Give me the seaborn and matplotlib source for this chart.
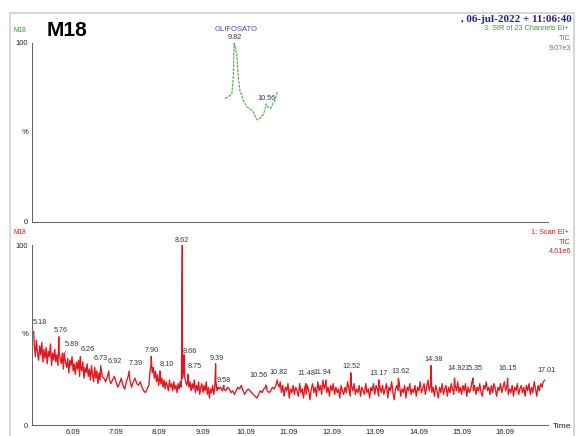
import numpy as np
import pandas as pd
import matplotlib
matplotlib.use("Agg")
import matplotlib.pyplot as plt
from matplotlib.ticker import MultipleLocator, NullFormatter, FixedLocator
from matplotlib.patches import Rectangle
import seaborn as sns

# ---------------- SIR channel (function 3) ----------------
sir_time = [9.61, 9.685, 9.765, 9.80, 9.88, 9.915, 9.955, 9.995, 10.03, 10.11,
            10.19, 10.265, 10.305, 10.355, 10.42, 10.495, 10.535, 10.61, 10.665,
            10.715, 10.765, 10.82]
sir_pct = [69, 70, 71.5, 81, 94, 81, 73, 71, 68, 64.5,
           63, 61.5, 59, 57, 58, 60, 63, 64, 63.5,
           66, 68, 73]
sir_peak_rt = [9.82, 10.56]
sir_peak_pct = [100, 66]

# ---------------- Scan TIC (function 1) ----------------
# segments: (first scan time, scan interval, relative intensities)
tic_a_start, tic_a_step = 5.192, 0.025
tic_a = [45, 38, 47, 40, 36, 44, 39, 46, 35, 42,
         37, 43, 34, 41, 38, 45, 33, 40, 36, 42,
         35, 39, 33, 41, 37, 34, 40, 31, 38, 35,
         32, 37, 29, 36, 33, 38, 30, 34, 28, 35,
         31, 36, 27, 33, 30, 35, 26, 32, 29, 34,
         27, 31, 25, 33, 28, 24, 32, 26, 30, 23,
         29, 25, 31, 27]

tic_b_start, tic_b_step = 6.805, 0.04
tic_b = [26, 24, 27, 26, 23, 25, 27, 24, 21, 23,
         26, 22, 20, 24, 27, 25, 21, 24, 26, 23,
         22, 24, 21, 19, 18, 20, 22]

tic_c_start, tic_c_step = 7.872, 0.025
tic_c = [30, 34, 29, 32, 26, 30, 24, 28, 22, 27,
         23, 26, 21, 25, 20, 24, 22, 19, 25, 21,
         23, 19, 24, 20, 22, 18, 23, 20, 24, 21,
         26, 30, 27, 24, 22, 25, 21, 24, 19, 23,
         20, 25, 18, 22, 19, 24, 17, 21, 23, 18,
         22, 19, 24, 17, 21, 15, 20, 18, 22, 17,
         21, 24, 19, 21, 20]

tic_d_start, tic_d_step = 9.505, 0.04
tic_d = [21, 19, 20, 19, 21, 20, 18, 19, 17, 19,
         21, 20, 22, 19, 17, 19, 20, 19, 18, 17,
         16, 15, 17, 19, 18, 20, 21, 19, 18, 19,
         21, 20, 22, 23, 21]

tic_e_start, tic_e_step = 10.885, 0.03
tic_e = [24, 18, 22, 16, 21, 19, 23, 15, 20, 18,
         22, 17, 21, 19, 16, 23, 18, 20, 15, 21,
         17, 22, 19, 14, 20, 23, 18, 21, 16, 24,
         19, 22, 17, 25, 20, 23, 18, 21, 16, 22,
         19, 23, 17, 21, 18, 20, 15, 22, 19, 17,
         21, 18, 24, 20, 16, 22, 19, 23, 17, 20,
         18, 22, 16, 21, 19, 17, 23, 18, 20, 15,
         21, 19, 23, 17, 22, 20, 16, 21, 18, 22,
         17, 20, 23, 15, 21, 19, 24, 18, 14, 20,
         22, 19, 23, 16, 20, 18, 22, 15, 21, 19,
         23, 17, 20, 18, 22, 16, 21, 19, 24, 18,
         20, 23, 17, 21, 25, 19, 22, 18, 21, 16,
         22, 19, 15, 21, 18, 23, 17, 20, 22, 16,
         21, 18, 23, 20, 17, 22, 19, 24, 18, 21,
         17, 22, 19, 23, 16, 21, 18, 20, 24, 19,
         22, 17, 21, 19, 23, 18, 16, 22, 20, 24,
         19, 21, 17, 22, 18, 23, 20, 16, 21, 19,
         23, 18, 21, 24, 19, 22, 17, 20, 18, 22,
         16, 21, 19, 23, 17, 20, 22, 18, 21, 16,
         22, 19, 23, 17, 21, 18, 24, 20, 16, 22,
         19, 23, 21, 24]

tic_peak_rt = [5.18, 5.76, 5.89, 6.26, 6.73, 6.92, 7.39, 7.90, 8.10, 8.62,
               8.66, 8.75, 9.39, 9.58, 10.56, 10.82, 11.48, 11.94, 12.52, 13.17,
               13.62, 14.38, 14.92, 15.35, 16.15, 17.01]
tic_peak_pct = [52, 49, 40, 38, 33, 30, 30, 38, 30, 100,
                39, 28, 34, 22, 22, 25, 23, 25, 29, 25,
                26, 33, 26, 26, 26, 25]

x_major = [6.09, 7.09, 8.09, 9.09, 10.09, 11.09, 12.09, 13.09, 14.09, 15.09, 16.09]
x_major_labels = ["6.09", "7.09", "8.09", "9.09", "10.09", "11.09",
                  "12.09", "13.09", "14.09", "15.09", "16.09"]


def segment(start, step, values):
    t = start + step * np.arange(len(values))
    return pd.DataFrame({"time": t, "pct": np.asarray(values, float)})


sir_df = pd.concat([pd.DataFrame({"time": sir_time, "pct": sir_pct}),
                    pd.DataFrame({"time": sir_peak_rt, "pct": sir_peak_pct})])
sir_df = sir_df.sort_values("time").reset_index(drop=True)

tic_df = pd.concat([segment(tic_a_start, tic_a_step, tic_a),
                    segment(tic_b_start, tic_b_step, tic_b),
                    segment(tic_c_start, tic_c_step, tic_c),
                    segment(tic_d_start, tic_d_step, tic_d),
                    segment(tic_e_start, tic_e_step, tic_e),
                    pd.DataFrame({"time": tic_peak_rt, "pct": tic_peak_pct})])
tic_df = tic_df.sort_values("time").reset_index(drop=True)

sns.set_theme(style="white")
plt.rcParams["font.family"] = ["Liberation Sans", "DejaVu Sans"]

W, H = 580, 436
fig = plt.figure(figsize=(W / 100, H / 100), dpi=100)

AX_COLOR = "#606060"
RED = "#e3161e"
GREEN = "#3a9a3a"
LABEL_COLOR = "#333333"


def px_box(left, top, right, bottom):
    return [left / W, 1 - bottom / H, (right - left) / W, (bottom - top) / H]


ax_top = fig.add_axes(px_box(32, 43, 548, 222))
ax_bot = fig.add_axes(px_box(32, 245, 548, 425))

for ax in (ax_top, ax_bot):
    ax.set_xlim(5.14, 17.085)
    ax.set_ylim(0, 100)
    ax.set_facecolor("none")
    for side in ("top", "right"):
        ax.spines[side].set_visible(False)
    for side in ("left", "bottom"):
        ax.spines[side].set_color(AX_COLOR)
        ax.spines[side].set_linewidth(0.7)
    ax.xaxis.set_major_locator(FixedLocator(x_major))
    ax.xaxis.set_minor_locator(MultipleLocator(0.1, offset=0.09))
    ax.yaxis.set_major_locator(FixedLocator([0, 100]))
    ax.yaxis.set_minor_locator(MultipleLocator(10))
    ax.yaxis.set_minor_formatter(NullFormatter())
    ax.set_yticklabels(["0", "100"])
    ax.tick_params(axis="both", which="both", direction="out", color=AX_COLOR,
                   width=0.5, labelsize=5.5, labelcolor="#222222")
    ax.tick_params(axis="x", which="major", length=2.4, pad=0.6)
    ax.tick_params(axis="x", which="minor", length=1.5)
    ax.tick_params(axis="y", which="major", length=1.8, pad=1.0)
    ax.tick_params(axis="y", which="minor", length=1.4)

ax_top.xaxis.set_major_formatter(NullFormatter())
ax_bot.set_xticklabels(x_major_labels)

# traces
sns.lineplot(data=sir_df, x="time", y="pct", ax=ax_top, estimator=None, sort=True,
             color="#52ad52", linewidth=0.85)
ax_top.lines[-1].set_dashes([2.4, 0.9])
sns.lineplot(data=tic_df, x="time", y="pct", ax=ax_bot, estimator=None, sort=True,
             color=RED, linewidth=0.95)
for ax in (ax_top, ax_bot):
    ax.set_xlabel("")
    ax.set_ylabel("")

# peak labels (offsets in pixels from the apex)
sir_shift = {9.82: (1, 5), 10.56: (0, 5)}
for rt, pct in zip(sir_peak_rt, sir_peak_pct):
    dx, dy = sir_shift.get(rt, (0, 6))
    ax_top.annotate(f"{rt:.2f}", xy=(rt, pct), xytext=(dx * 0.72, dy * 0.72),
                    textcoords="offset points", ha="center", va="center",
                    fontsize=5.2, color=LABEL_COLOR, annotation_clip=False)
ax_top.annotate("GLIFOSATO", xy=(sir_peak_rt[0], sir_peak_pct[0]),
                xytext=(2 * 0.72, 13 * 0.72), textcoords="offset points",
                ha="center", va="center", fontsize=5.5, color="#4a4ab4",
                annotation_clip=False)

tic_shift = {5.18: (6, 9), 5.76: (2, 6), 5.89: (7, 9), 6.26: (7, 7), 6.73: (0, 7),
             6.92: (6, 10), 7.39: (7, 8), 7.90: (1, 6), 8.10: (7, 7), 8.62: (-1, 5),
             8.66: (6, 3), 8.75: (7, 8), 9.39: (1, 5), 9.58: (0, 5), 10.56: (-8, 10),
             10.82: (1, 8), 11.48: (1, 10), 11.94: (-3, 8), 12.52: (1, 6),
             13.17: (0, 7), 13.62: (2, 7), 14.38: (2, 6), 14.92: (2, 10),
             15.35: (0, 10), 16.15: (0, 10), 17.01: (2, 10)}
leader = {5.89, 6.26, 8.75, 10.56, 8.10}
for rt, pct in zip(tic_peak_rt, tic_peak_pct):
    dx, dy = tic_shift.get(rt, (1, 7))
    arrow = None
    if rt in leader:
        arrow = dict(arrowstyle="-", lw=0.35, color="#555555", shrinkA=2.2, shrinkB=0.5)
    ax_bot.annotate(f"{rt:.2f}", xy=(rt, pct), xytext=(dx * 0.72, dy * 0.72),
                    textcoords="offset points", ha="center", va="center",
                    fontsize=5.2, color=LABEL_COLOR, annotation_clip=False,
                    arrowprops=arrow)

# outer frame
fig.add_artist(Rectangle((10 / W, -0.05), (574 - 10) / W, 1.05 - 13 / H,
                         transform=fig.transFigure, fill=False,
                         edgecolor="#d6d6d6", linewidth=1.4))


def ftext(x, y, s, **kw):
    fig.text(x / W, 1 - y / H, s, **kw)


# left-hand labels
ftext(13, 30, "M18", fontsize=4.8, color=GREEN, va="center", ha="left")
ftext(25, 133, "%", fontsize=5.5, color="#222222", va="center", ha="center")
ftext(13, 233, "M18", fontsize=4.8, color=RED, va="center", ha="left")
ftext(25, 334, "%", fontsize=5.5, color="#222222", va="center", ha="center")
ftext(47, 30, "M18", fontsize=15, fontweight="bold", color="black",
      va="center", ha="left")
ftext(553, 426, "Time", fontsize=6, color="#222222", va="center", ha="left")

# right-hand header
ftext(572, 19, ", 06-jul-2022 + 11:06:40", fontsize=8, fontweight="bold",
      color="#24248c", va="center", ha="right",
      family=["Liberation Serif", "DejaVu Serif"])
ftext(569, 29, "3: SIR of 23 Channels EI+", fontsize=5.3, color=GREEN,
      va="center", ha="right")
ftext(571, 39, "TIC", fontsize=5.3, color=GREEN, va="center", ha="right")
ftext(571, 49, "9.07e3", fontsize=5.3, color=GREEN, va="center", ha="right")
ftext(569, 233, "1: Scan EI+", fontsize=5.3, color=RED, va="center", ha="right")
ftext(571, 242, "TIC", fontsize=5.3, color=RED, va="center", ha="right")
ftext(571, 251, "4.61e6", fontsize=5.3, color=RED, va="center", ha="right")

fig.savefig("out.png", dpi=100)
